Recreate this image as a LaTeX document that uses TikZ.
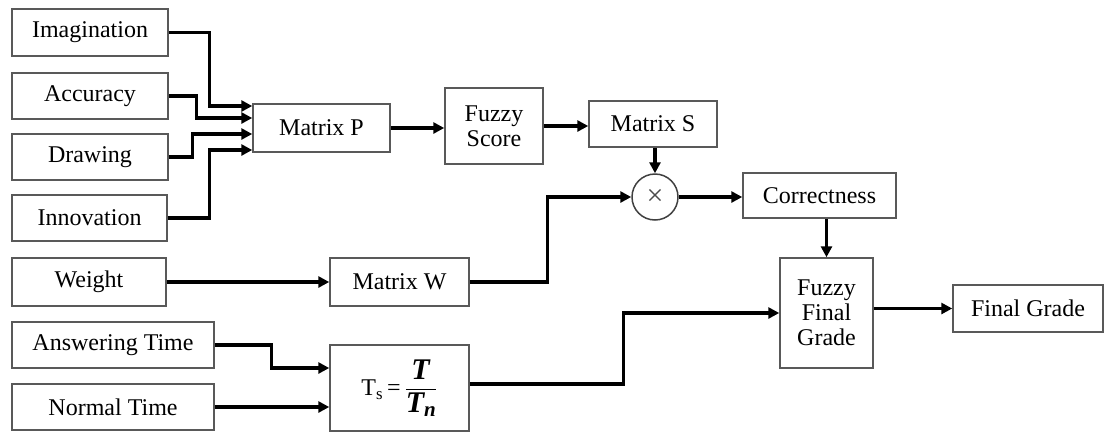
\documentclass[tikz,border=0pt]{standalone}
\usepackage{fontspec}
\setmainfont{Liberation Serif}
\usepackage{amsmath}
\usetikzlibrary{arrows.meta,calc}
\begin{document}
\begin{tikzpicture}[x=1pt,y=-1pt,
  box/.style={draw=black!65,line width=1.5pt,rectangle,inner sep=0pt,align=center,
    font=\fontsize{24}{27}\selectfont,text=black},
  arr/.style={line width=3.4pt,-{Triangle[length=11pt,width=11pt]}},
  ln/.style={line width=3.4pt}]
\useasboundingbox (0,0) rectangle (1104,432);
% left inputs
\node[box,minimum width=156pt,minimum height=47pt] (img) at (90,32.5) {Imagination};
\node[box,minimum width=156pt,minimum height=46pt] (acc) at (90,96) {Accuracy};
\node[box,minimum width=156pt,minimum height=46pt] (drw) at (90,157) {Drawing};
\node[box,minimum width=155pt,minimum height=46pt] (inn) at (89.5,218) {Innovation};
\node[box,minimum width=154pt,minimum height=48pt] (wgt) at (89,282) {Weight};
\node[box,minimum width=202pt,minimum height=46pt] (ans) at (113,345) {Answering Time};
\node[box,minimum width=202pt,minimum height=46pt] (nt) at (113,407) {Normal Time};
% middle
\node[box,minimum width=137pt,minimum height=48pt] (mp) at (321.5,128) {Matrix P};
\node[box,minimum width=98pt,minimum height=76pt] (fs) at (494,126) {Fuzzy\\[-2pt]Score};
\node[box,minimum width=128pt,minimum height=46pt] (ms) at (653,124) {Matrix S};
\node[draw=black!75,line width=1.5pt,circle,minimum size=46pt,inner sep=0pt,
  text=black!70,font=\fontsize{30}{30}\selectfont] (mul) at (655,197) {×};
\node[box,minimum width=139pt,minimum height=48pt] (mw) at (399.5,282) {Matrix W};
\node[box,minimum width=139pt,minimum height=86pt] (ts) at (399.5,388)
  {T\textsubscript{s}\,=\,{\fontsize{30}{30}\selectfont$\dfrac{\textbf{\textit{T}}}{\textbf{\textit{T\textsubscript{n}}}}$}};
% right
\node[box,minimum width=153pt,minimum height=45pt] (cor) at (819.5,195.5) {Correctness};
\node[box,minimum width=93pt,minimum height=110pt] (ffg) at (826.5,313) {Fuzzy\\[-2pt]Final\\[-2pt]Grade};
\node[box,minimum width=150pt,minimum height=47pt] (fg) at (1028,308.5) {Final Grade};
% connectors into Matrix P
\draw[arr] (img.east) -| ([xshift=-43pt,yshift=22pt]mp.west) -- ([yshift=22pt]mp.west);
\draw[arr] (acc.east) -| ([xshift=-56pt,yshift=10pt]mp.west) -- ([yshift=10pt]mp.west);
\draw[arr] (drw.east) -| ([xshift=-60pt,yshift=-6pt]mp.west) -- ([yshift=-6pt]mp.west);
\draw[arr] (inn.east) -| ([xshift=-43pt,yshift=-22pt]mp.west) -- ([yshift=-22pt]mp.west);
% top chain
\draw[arr] (mp.east) -- (fs.west |- mp.east);
\draw[arr] (fs.east) -- (ms.west |- fs.east);
\draw[arr] (mul.north |- ms.south) -- (mul.north);
\draw[arr] (mul.east) -- (cor.west |- mul.east);
% weight chain
\draw[arr] (wgt.east) -- (mw.west);
\draw[arr] (mw.east) -| ([xshift=-84pt]mul.west) -- (mul.west);
% time chain
\draw[arr] (ans.east) -| ([xshift=-58pt,yshift=20pt]ts.west) -- ([yshift=20pt]ts.west);
\draw[arr] (nt.east) -- (ts.west |- nt.east);
\draw[arr] ([yshift=4pt]ts.east) -| ([xshift=-156pt]ffg.west) -- (ffg.west);
% right chain
\draw[arr] (ffg.north |- cor.south) -- (ffg.north);
\draw[arr] (ffg.east |- fg.west) -- (fg.west);
\end{tikzpicture}
\end{document}
